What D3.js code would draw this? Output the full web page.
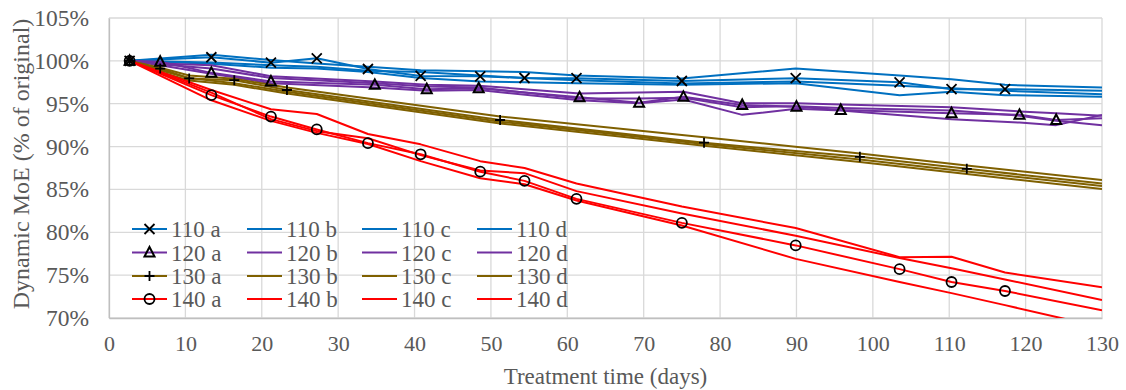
<!DOCTYPE html>
<html><head><meta charset="utf-8">
<script src="https://cdn.jsdelivr.net/npm/d3@7"></script>
<style>
body{margin:0;background:#fff;}
svg text{font-family:"Liberation Serif","Times New Roman",serif;fill:#595959;}
</style></head>
<body><svg id="chart" width="1126" height="390"></svg>
<script>
// ---- data (treatment days, % of original dynamic MoE) ----
const days110 = [2.7, 13.4, 21.2, 27.2, 33.9, 40.8, 48.6, 54.4, 61.2, 75.0, 89.9, 103.5, 110.3, 117.3, 130];
const s110a = [100, 100.42, 99.79, 100.3, 99.05, 98.24, 98.2, 98.0, 97.98, 97.65, 97.98, 97.5, 96.7, 96.7, 96.5];
const s110b = [100, 100.7, 100.1, 99.7, 99.3, 98.9, 98.8, 98.7, 98.3, 97.95, 99.1, 98.3, 97.85, 97.2, 96.9];
const s110c = [100, 99.8, 99.5, 99.3, 98.85, 98.7, 98.3, 98.0, 97.75, 97.35, 97.6, 97.1, 96.8, 96.5, 96.1];
const s110d = [100, 99.65, 99.2, 99.1, 98.7, 98.0, 97.6, 97.5, 97.4, 97.2, 97.4, 96.0, 96.4, 96.0, 95.8];

const days120 = [2.7, 6.7, 13.4, 21.2, 34.8, 41.6, 48.4, 61.6, 69.4, 75.2, 82.9, 90.0, 95.8, 110.3, 119.2, 124.0, 130];
const s120a = [100, 99.9, 98.6, 97.6, 97.2, 96.7, 96.8, 95.75, 95.1, 95.8, 94.85, 94.66, 94.27, 93.9, 93.7, 93.1, 93.3];
const s120b = [100, 99.7, 99.5, 98.2, 97.6, 97.2, 97.1, 96.2, 96.3, 96.4, 95.05, 95.05, 94.9, 94.6, 94.1, 93.9, 93.6];
const s120c = [100, 99.6, 99.1, 98.0, 97.4, 97.0, 96.9, 95.6, 95.6, 95.7, 94.6, 94.7, 94.5, 94.2, 93.6, 93.0, 92.5];
const s120d = [100, 99.5, 98.5, 97.4, 96.9, 96.5, 96.6, 95.4, 95.05, 95.5, 93.7, 94.4, 94.2, 93.2, 92.8, 92.5, 93.7];

const days130 = [2.7, 6.7, 10.5, 16.4, 23.3, 51.2, 77.9, 98.3, 112.3, 130];
const s130a = [100, 99.1, 97.95, 97.75, 96.6, 93.1, 90.45, 88.8, 87.4, 85.7];
const s130b = [100, 99.2, 98.3, 97.9, 96.9, 93.5, 91.1, 89.2, 87.8, 86.1];
const s130c = [100, 98.9, 98.0, 97.4, 96.4, 92.9, 90.3, 88.5, 87.1, 85.4];
const s130d = [100, 98.7, 97.7, 97.2, 96.2, 92.7, 90.1, 88.2, 86.8, 85.05];

const days140 = [2.7, 13.4, 21.2, 27.2, 33.9, 40.8, 48.6, 54.4, 61.2, 75.0, 89.9, 103.5, 110.3, 117.3, 130];
const s140a = [100, 96.0, 93.5, 92.0, 90.4, 89.1, 87.07, 86.0, 83.9, 81.1, 78.47, 75.7, 74.2, 73.15, 70.9];
const s140b = [100, 96.6, 94.35, 93.8, 91.47, 90.26, 88.3, 87.5, 85.7, 83.0, 80.5, 77.1, 77.15, 75.3, 73.6];
const s140c = [100, 96.3, 93.2, 91.8, 90.97, 89.0, 87.2, 86.9, 84.8, 82.2, 79.6, 77.0, 75.8, 74.5, 72.1];
const s140d = [100, 95.4, 93.0, 91.6, 90.3, 88.3, 86.3, 85.6, 83.7, 80.8, 76.9, 74.2, 72.9, 71.5, 68.9];

const groupNames = ["110", "120", "130", "140"];
const groupColors = ["#0070C0", "#7030A0", "#7F6000", "#FF0000"];
const groupMarkers = ["x", "triangle", "plus", "circle"];
const replicateNames = ["a", "b", "c", "d"];
const xTicks = [0, 10, 20, 30, 40, 50, 60, 70, 80, 90, 100, 110, 120, 130];
const yTicks = [0.70, 0.75, 0.80, 0.85, 0.90, 0.95, 1.00, 1.05];
const xTitle = "Treatment time (days)";
const yTitle = "Dynamic MoE (% of original)";

const groups = [
  {days: days110, reps: [s110a, s110b, s110c, s110d]},
  {days: days120, reps: [s120a, s120b, s120c, s120d]},
  {days: days130, reps: [s130a, s130b, s130c, s130d]},
  {days: days140, reps: [s140a, s140b, s140c, s140d]}
];

// ---- layout ----
const svg = d3.select("#chart");
const m = {left: 109, right: 1102, top: 18, bottom: 318};
const x = d3.scaleLinear().domain([0, 130]).range([m.left, m.right]);
const y = d3.scaleLinear().domain([0.70, 1.05]).range([m.bottom, m.top]);

svg.append("defs").append("clipPath").attr("id", "plotclip")
  .append("rect").attr("x", m.left).attr("y", m.top)
  .attr("width", m.right - m.left).attr("height", m.bottom - m.top);

// gridlines
const grid = svg.append("g");
grid.selectAll(".hg").data(yTicks).join("line")
  .attr("x1", m.left).attr("x2", m.right)
  .attr("y1", d => y(d)).attr("y2", d => y(d))
  .attr("stroke", "#D9D9D9").attr("stroke-width", 1.3);
grid.selectAll(".vg").data(xTicks).join("line")
  .attr("y1", m.top).attr("y2", m.bottom)
  .attr("x1", d => x(d)).attr("x2", d => x(d))
  .attr("stroke", "#D9D9D9").attr("stroke-width", 1.3);

// axes
const xAxis = svg.append("g").attr("transform", `translate(0,${m.bottom})`)
  .call(d3.axisBottom(x).tickValues(xTicks).tickSize(0).tickPadding(17).tickFormat(d3.format("d")));
xAxis.attr("font-family", null).attr("font-size", null);
xAxis.select(".domain").attr("stroke", "#BFBFBF").attr("stroke-width", 1.3);
xAxis.selectAll("text").attr("font-size", 22).style("fill", "#595959");

const yAxis = svg.append("g").attr("transform", `translate(${m.left},0)`)
  .call(d3.axisLeft(y).tickValues(yTicks).tickSize(0).tickPadding(20).tickFormat(d3.format(".0%")));
yAxis.attr("font-family", null).attr("font-size", null);
yAxis.select(".domain").attr("stroke", "#BFBFBF").attr("stroke-width", 1.3);
yAxis.selectAll("text").attr("font-size", 23.5).style("fill", "#595959");

svg.append("text").attr("x", (m.left + m.right) / 2).attr("y", 384)
  .attr("text-anchor", "middle").attr("font-size", 23).text(xTitle);
svg.append("text").attr("transform", `translate(29,${(m.top + m.bottom) / 2 - 4}) rotate(-90)`)
  .attr("text-anchor", "middle").attr("font-size", 24).text(yTitle);

// markers
function drawMarker(g, type, cx, cy) {
  const s = 5;
  if (type === "x") {
    g.append("path").attr("d", `M${cx - s},${cy - s}L${cx + s},${cy + s}M${cx - s},${cy + s}L${cx + s},${cy - s}`)
      .attr("stroke", "#000").attr("stroke-width", 1.8).attr("fill", "none");
  } else if (type === "triangle") {
    g.append("path").attr("d", `M${cx},${cy - 5.5}L${cx + 5},${cy + 4}L${cx - 5},${cy + 4}Z`)
      .attr("stroke", "#000").attr("stroke-width", 2).attr("fill", "none");
  } else if (type === "plus") {
    g.append("path").attr("d", `M${cx - s},${cy}L${cx + s},${cy}M${cx},${cy - s}L${cx},${cy + s}`)
      .attr("stroke", "#000").attr("stroke-width", 1.8).attr("fill", "none");
  } else {
    g.append("circle").attr("cx", cx).attr("cy", cy).attr("r", 5)
      .attr("stroke", "#000").attr("stroke-width", 1.8).attr("fill", "none");
  }
}

// series lines
const plot = svg.append("g").attr("clip-path", "url(#plotclip)");
const line = d3.line().x(d => x(d[0])).y(d => y(d[1] / 100));
groups.forEach((g, gi) => {
  g.reps.forEach((vals, ri) => {
    const pts = g.days.map((d, i) => [d, vals[i]]);
    plot.append("path").datum(pts).attr("d", line)
      .attr("fill", "none").attr("stroke", groupColors[gi]).attr("stroke-width", 2)
      .attr("stroke-linejoin", "round");
  });
});
// markers for replicate a (drawn on top)
groups.forEach((g, gi) => {
  const mg = plot.append("g");
  g.days.forEach((d, i) => {
    if (d >= 130) return;
    drawMarker(mg, groupMarkers[gi], x(d), y(g.reps[0][i] / 100));
  });
});

// legend
const leg = svg.append("g");
const rowY = [229, 252.5, 276, 299];
const colX = [132, 247, 362, 477];
groupNames.forEach((gn, gi) => {
  replicateNames.forEach((rn, ri) => {
    const lx = colX[ri], ly = rowY[gi];
    leg.append("line").attr("x1", lx).attr("x2", lx + 35).attr("y1", ly).attr("y2", ly)
      .attr("stroke", groupColors[gi]).attr("stroke-width", 2);
    if (ri === 0) drawMarker(leg, groupMarkers[gi], lx + 17.5, ly);
    leg.append("text").attr("x", lx + 39).attr("y", ly + 8)
      .attr("font-size", 23).text(`${gn} ${rn}`);
  });
});
</script></body></html>
